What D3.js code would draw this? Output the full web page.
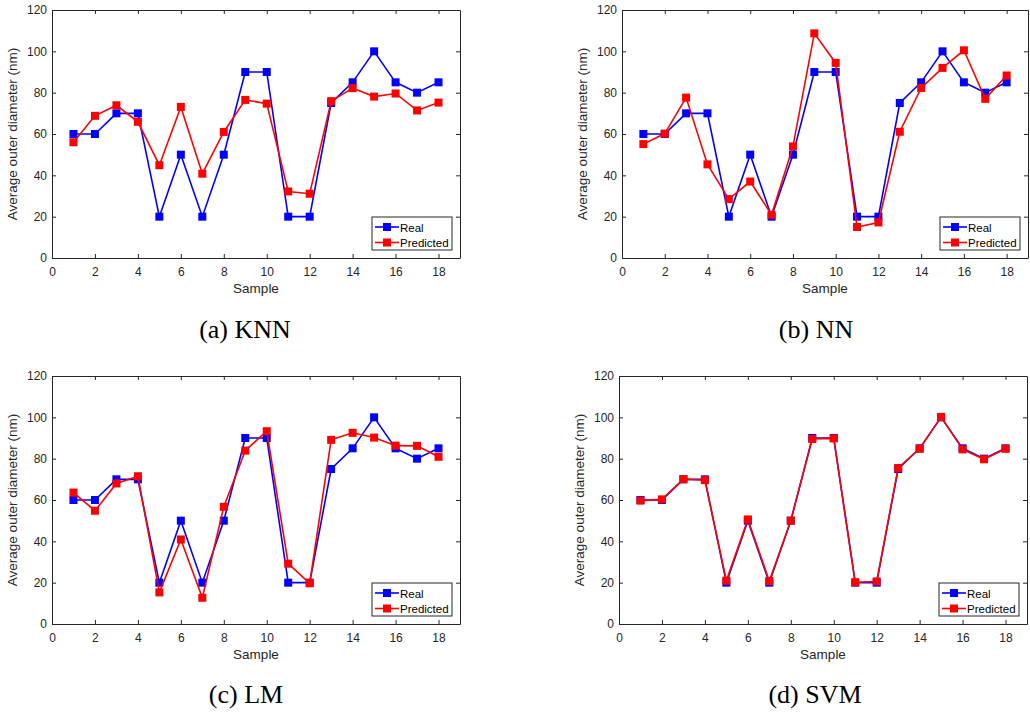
<!DOCTYPE html>
<html>
<head>
<meta charset="utf-8">
<script src="https://cdn.jsdelivr.net/npm/d3@7"></script>
<style>
  body { margin: 0; background: #fff; }
  svg text { font-family: "Liberation Sans", Arial, sans-serif; }
</style>
</head>
<body>
<svg id="chart" width="1030" height="714"></svg>
<script>
// data
const samples = d3.range(1, 19);
const realValues = [60, 60, 70, 70, 20, 50, 20, 50, 90, 90, 20, 20, 75, 85, 100, 85, 80, 85];
const knnPred = [56, 68.8, 73.9, 65.9, 44.9, 73.1, 40.8, 61, 76.5, 74.7, 32.2, 31.1, 75.9, 82.2, 78.1, 79.6, 71.4, 75.2];
const nnPred = [55.1, 60.2, 77.6, 45.3, 28.5, 37, 20.9, 54, 108.7, 94.4, 15, 17.2, 61.1, 82.3, 92, 100.5, 77, 88.3];
const lmPred = [63.6, 54.8, 68, 71.5, 15.3, 40.9, 12.7, 56.7, 83.9, 93.3, 29.2, 19.7, 89.1, 92.5, 90.2, 86.3, 86.2, 80.9];
const svmPred = [59.7, 60.3, 70.1, 69.6, 21, 50.6, 20.8, 50, 89.5, 89.8, 20.2, 20.6, 75.5, 84.8, 100.2, 84.5, 79.7, 84.8];
const xTicks = [0, 2, 4, 6, 8, 10, 12, 14, 16, 18];
const yTicks = [0, 20, 40, 60, 80, 100, 120];
const captions = ["(a) KNN", "(b) NN", "(c) LM", "(d) SVM"];
const seriesNames = ["Real", "Predicted"];

const predictions = [knnPred, nnPred, lmPred, svmPred];
// plot box of each panel
const panels = [
  {x0: 52, x1: 460, y0: 10, y1: 258, capX: 245, capY: 338},
  {x0: 622, x1: 1028, y0: 10, y1: 258, capX: 816, capY: 338},
  {x0: 52, x1: 460, y0: 376, y1: 624, capX: 246, capY: 703},
  {x0: 619, x1: 1027, y0: 376, y1: 624, capX: 815, capY: 703}
];
const colors = ["#0000ff", "#ff0000"];
const axisColor = "#262626";

const svg = d3.select("#chart");

panels.forEach((p, i) => {
  const x = d3.scaleLinear().domain([0, 19]).range([p.x0, p.x1]);
  const y = d3.scaleLinear().domain([0, 120]).range([p.y1, p.y0]);
  const g = svg.append("g");

  // axes with inward ticks, mirrored on top and right
  const tickLen = 4;
  g.append("g")
    .attr("transform", `translate(0,${p.y1})`)
    .call(d3.axisBottom(x).tickValues(xTicks).tickSizeInner(-tickLen).tickSizeOuter(0).tickPadding(9));
  g.append("g")
    .attr("transform", `translate(0,${p.y0})`)
    .call(d3.axisTop(x).tickValues(xTicks).tickSizeInner(-tickLen).tickSizeOuter(0).tickFormat(""));
  g.append("g")
    .attr("transform", `translate(${p.x0},0)`)
    .call(d3.axisLeft(y).tickValues(yTicks).tickSizeInner(-tickLen).tickSizeOuter(0).tickPadding(5));
  g.append("g")
    .attr("transform", `translate(${p.x1},0)`)
    .call(d3.axisRight(y).tickValues(yTicks).tickSizeInner(-tickLen).tickSizeOuter(0).tickFormat(""));

  g.selectAll(".domain").attr("stroke", axisColor).attr("stroke-width", 1);
  g.selectAll(".tick line").attr("stroke", axisColor).attr("stroke-width", 1);
  g.selectAll(".tick text")
    .attr("fill", axisColor)
    .style("font-size", "12px")
    .style("font-family", "'Liberation Sans', Arial, sans-serif");

  // axis titles
  g.append("text")
    .attr("x", (p.x0 + p.x1) / 2)
    .attr("y", p.y1 + 35)
    .attr("text-anchor", "middle")
    .attr("fill", axisColor)
    .style("font-size", "13.5px")
    .text("Sample");
  g.append("text")
    .attr("transform", `translate(${p.x0 - 35},${(p.y0 + p.y1) / 2}) rotate(-90)`)
    .attr("text-anchor", "middle")
    .attr("fill", axisColor)
    .style("font-size", "13.5px")
    .text("Average outer diameter (nm)");

  // lines and markers
  const series = [realValues, predictions[i]];
  const line = d3.line()
    .x((d, k) => x(samples[k]))
    .y(d => y(d));

  series.forEach((vals, s) => {
    g.append("path")
      .datum(vals)
      .attr("fill", "none")
      .attr("stroke", colors[s])
      .attr("stroke-width", 1.6)
      .attr("d", line);
    g.selectAll(`.m${s}`)
      .data(vals)
      .enter()
      .append("rect")
      .attr("class", `m${s}`)
      .attr("x", (d, k) => x(samples[k]) - 4)
      .attr("y", d => y(d) - 4)
      .attr("width", 8)
      .attr("height", 8)
      .attr("fill", colors[s]);
  });

  // legend
  const lw = 80, lh = 33;
  const lx = p.x1 - 8 - lw, ly = p.y1 - 8 - lh;
  const legend = g.append("g").attr("transform", `translate(${lx},${ly})`);
  legend.append("rect")
    .attr("width", lw)
    .attr("height", lh)
    .attr("fill", "#fff")
    .attr("stroke", axisColor)
    .attr("stroke-width", 1);
  seriesNames.forEach((name, s) => {
    const row = legend.append("g").attr("transform", `translate(0,${10 + s * 15.5})`);
    row.append("line")
      .attr("x1", 3).attr("x2", 27)
      .attr("stroke", colors[s])
      .attr("stroke-width", 1.6);
    row.append("rect")
      .attr("x", 11).attr("y", -4)
      .attr("width", 8).attr("height", 8)
      .attr("fill", colors[s]);
    row.append("text")
      .attr("x", 28)
      .attr("y", 4.5)
      .attr("fill", "#000")
      .style("font-size", "11.5px")
      .text(name);
  });

  // caption
  svg.append("text")
    .attr("x", p.capX)
    .attr("y", p.capY)
    .attr("text-anchor", "middle")
    .attr("fill", "#000")
    .style("font-family", "'Liberation Serif', 'DejaVu Serif', serif")
    .style("font-size", "26px")
    .text(captions[i]);
});
</script>
</body>
</html>
